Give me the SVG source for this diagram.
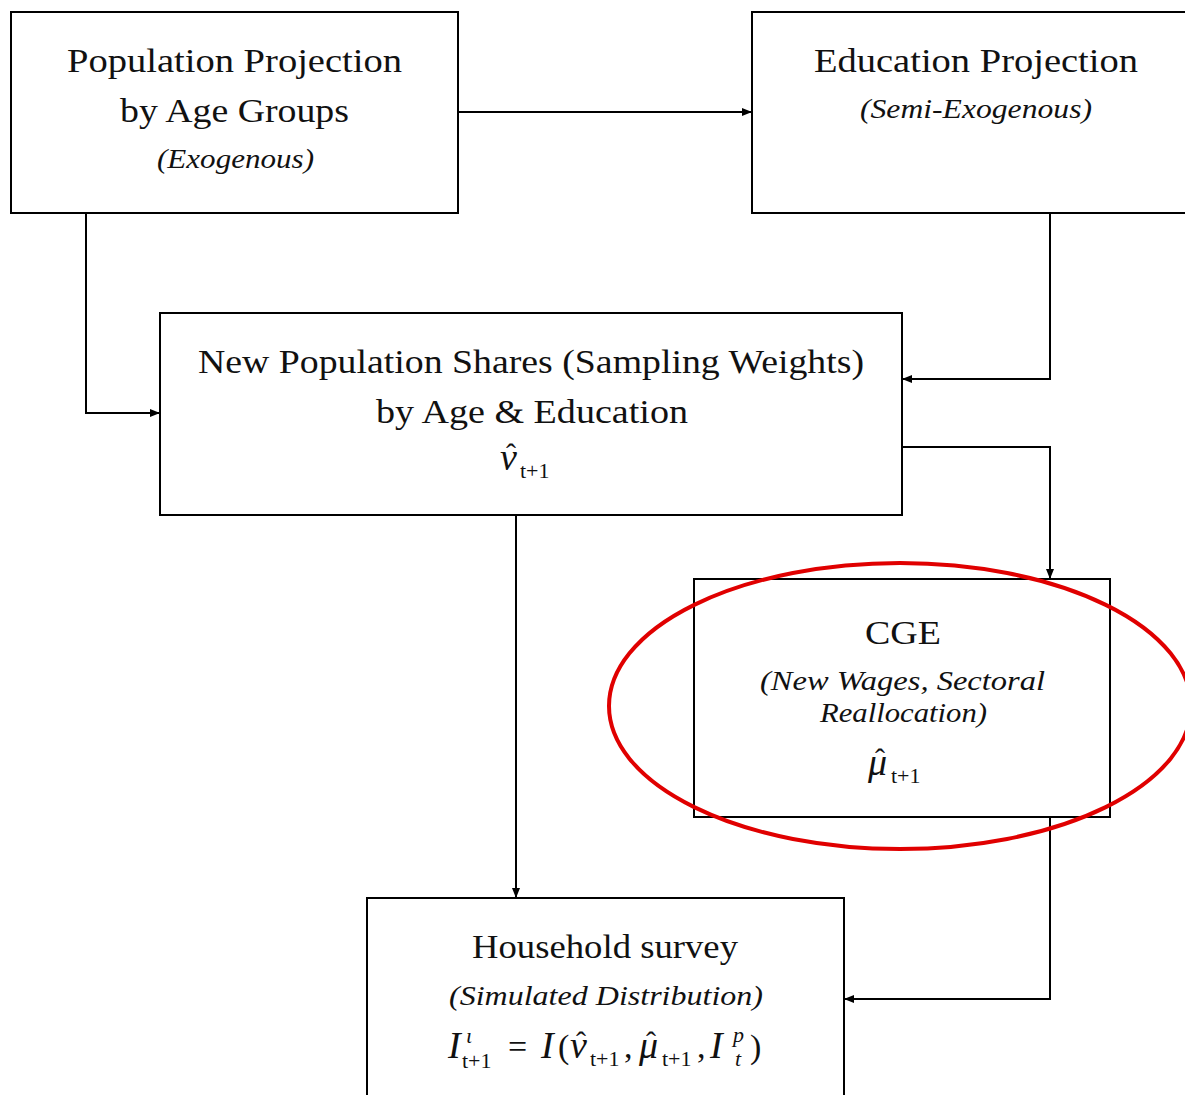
<svg xmlns="http://www.w3.org/2000/svg" width="1185" height="1095" viewBox="0 0 1185 1095">
<style>
.box{fill:#fff;stroke:#000;stroke-width:2}
.t{font-family:"Liberation Serif","DejaVu Serif",serif;font-size:34px;fill:#111;text-anchor:middle}
.i{font-family:"Liberation Serif","DejaVu Serif",serif;font-size:28px;font-style:italic;fill:#111;text-anchor:middle}
.m{font-family:"Liberation Serif","DejaVu Serif",serif;font-size:34px;fill:#111}
.it{font-style:italic}
.g{font-style:italic;font-size:38px}
.s{font-size:22px}
.h{font-size:30px;font-style:normal}
.c{fill:none;stroke:#000;stroke-width:2}
</style>
<defs>
<marker id="ah" viewBox="0 0 10 10" refX="10" refY="5" markerWidth="10" markerHeight="10" markerUnits="userSpaceOnUse" orient="auto">
<path d="M0,1 L10,5 L0,9 z" fill="#000"/>
</marker>
</defs>
<rect width="1185" height="1095" fill="#fff"/>
<g id="node-population">
<rect class="box" x="11" y="12" width="447" height="201"/>
<text class="t" x="234.5" y="72" textLength="335" lengthAdjust="spacingAndGlyphs">Population Projection</text>
<text class="t" x="234.5" y="122" textLength="229" lengthAdjust="spacingAndGlyphs">by Age Groups</text>
<text class="i" x="235.5" y="168" textLength="157" lengthAdjust="spacingAndGlyphs">(Exogenous)</text>
</g>
<g id="node-education">
<rect class="box" x="752" y="12" width="440" height="201"/>
<text class="t" x="976" y="72" textLength="324" lengthAdjust="spacingAndGlyphs">Education Projection</text>
<text class="i" x="976" y="118" textLength="232" lengthAdjust="spacingAndGlyphs">(Semi-Exogenous)</text>
</g>
<g id="node-shares">
<rect class="box" x="160" y="313" width="742" height="202"/>
<text class="t" x="531" y="373" textLength="666" lengthAdjust="spacingAndGlyphs">New Population Shares (Sampling Weights)</text>
<text class="t" x="532" y="423" textLength="312" lengthAdjust="spacingAndGlyphs">by Age &amp; Education</text>
<text class="m"><tspan class="g" x="500" y="470">ν</tspan><tspan class="h" x="506" y="464">ˆ</tspan><tspan class="s" x="520" y="478">t+1</tspan></text>
</g>
<g id="node-cge">
<rect class="box" x="694" y="579" width="416" height="238"/>
<text class="t" x="903" y="644" textLength="76" lengthAdjust="spacingAndGlyphs">CGE</text>
<text class="i" x="902.5" y="690" textLength="285" lengthAdjust="spacingAndGlyphs">(New Wages, Sectoral</text>
<text class="i" x="903.5" y="722" textLength="167" lengthAdjust="spacingAndGlyphs">Reallocation)</text>
<text class="m"><tspan class="g" x="868" y="775">μ</tspan><tspan class="h" x="875" y="769">ˆ</tspan><tspan class="s" x="891" y="783">t+1</tspan></text>
</g>
<g id="node-household">
<rect class="box" x="367" y="898" width="477" height="210"/>
<text class="t" x="605" y="958" textLength="266" lengthAdjust="spacingAndGlyphs">Household survey</text>
<text class="i" x="606" y="1005" textLength="314" lengthAdjust="spacingAndGlyphs">(Simulated Distribution)</text>
<text class="m"><tspan class="g" x="448" y="1058">I</tspan><tspan class="s it" x="466" y="1043">ι</tspan><tspan class="s" x="462" y="1068">t+1</tspan><tspan x="508" y="1058">=</tspan><tspan class="g" x="541" y="1058">I</tspan><tspan x="558" y="1058">(</tspan><tspan class="g" x="570" y="1058">ν</tspan><tspan class="h" x="576" y="1052">ˆ</tspan><tspan class="s" x="590" y="1066">t+1</tspan><tspan x="624" y="1058">,</tspan><tspan class="g" x="639" y="1058">μ</tspan><tspan class="h" x="646" y="1052">ˆ</tspan><tspan class="s" x="662" y="1066">t+1</tspan><tspan x="697" y="1058">,</tspan><tspan class="g" x="710" y="1058">I</tspan><tspan class="s it" x="733" y="1042">p</tspan><tspan class="s it" x="735" y="1066">t</tspan><tspan x="750" y="1058">)</tspan></text>
</g>
<g id="connectors">
<path class="c" d="M458,112 H752" marker-end="url(#ah)"/>
<path class="c" d="M86,213 V413 H160" marker-end="url(#ah)"/>
<path class="c" d="M1050,213 V379 H902" marker-end="url(#ah)"/>
<path class="c" d="M902,447 H1050 V579" marker-end="url(#ah)"/>
<path class="c" d="M516,515 V898" marker-end="url(#ah)"/>
<path class="c" d="M1050,817 V999 H844" marker-end="url(#ah)"/>
</g>
<ellipse cx="900" cy="706" rx="291" ry="143" fill="none" stroke="#e00000" stroke-width="4"/>
</svg>
